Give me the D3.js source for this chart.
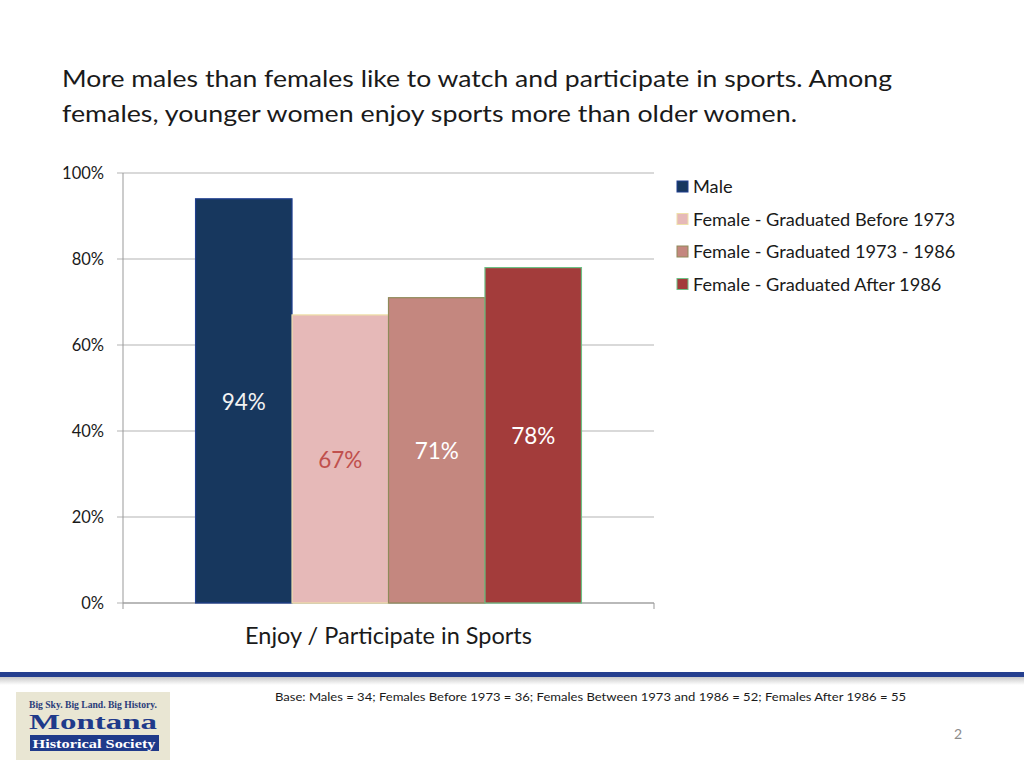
<!DOCTYPE html>
<html><head><meta charset="utf-8">
<script src="https://cdn.jsdelivr.net/npm/d3@7"></script>
<style>body{margin:0;background:#fff;} svg{display:block;font-family:Lato,"Open Sans",sans-serif;}</style>
</head><body>
<script>
const categories = ["Enjoy / Participate in Sports"];
const series = ["Male","Female - Graduated Before 1973","Female - Graduated 1973 - 1986","Female - Graduated After 1986"];
const values = [0.94, 0.67, 0.71, 0.78];
const valueLabels = ["94%","67%","71%","78%"];
const yTicks = [0,0.2,0.4,0.6,0.8,1.0];
const fills = ["#17375e","#e6b9b8","#c4877f","#a33c3b"];
const strokes = ["#1f3f8f","#efe0a8","#8f8a5a","#6dbf84"];
const labelColors = ["#f2f2f2","#c0504d","#ffffff","#ffffff"];
const titleLines = ["More males than females like to watch and participate in sports. Among","females, younger women enjoy sports more than older women."];
const footnote = "Base: Males = 34; Females  Before 1973 = 36; Females Between 1973 and 1986 = 52; Females After 1986 = 55";

const W=1024,H=768;
const svg=d3.select("body").append("svg").attr("width",W).attr("height",H);

// title
svg.selectAll("text.title").data(titleLines).join("text")
  .attr("x",62).attr("y",(d,i)=>87+i*35).attr("font-size",24).attr("fill","#1a1a1a")
  .attr("textLength",(d,i)=>i===0?830:735).attr("lengthAdjust","spacingAndGlyphs")
  .text(d=>d);

const m={left:123,right:654,top:173,bottom:603};
const y=d3.scaleLinear().domain([0,1]).range([m.bottom,m.top]);
const x0=d3.scaleBand().domain(categories).range([m.left,m.right]).paddingInner(0).paddingOuter(0.188);
const x1=d3.scaleBand().domain(series).range([0,x0.bandwidth()]).padding(0);

// gridlines
const g=svg.append("g");
g.selectAll("line.grid").data(yTicks).join("line")
  .attr("x1",117).attr("x2",m.right).attr("y1",d=>y(d)).attr("y2",d=>y(d))
  .attr("stroke","#b3b3b3").attr("stroke-width",1);
g.append("line").attr("x1",m.left).attr("x2",m.left).attr("y1",m.top).attr("y2",m.bottom+6).attr("stroke","#999");
g.append("line").attr("x1",m.right).attr("x2",m.right).attr("y1",m.bottom).attr("y2",m.bottom+6).attr("stroke","#999");
g.append("line").attr("x1",m.left).attr("x2",m.right).attr("y1",m.bottom).attr("y2",m.bottom).attr("stroke","#999");

const yAxis=d3.axisLeft(y).tickValues(yTicks).tickFormat(d3.format(".0%")).tickSize(0).tickPadding(19);
const ya=svg.append("g").attr("transform",`translate(${m.left},0)`).call(yAxis);
ya.select(".domain").remove();
ya.selectAll("text").attr("font-size",16.5).attr("fill","#1a1a1a").attr("font-family","Lato,'Open Sans',sans-serif");

// bars
const cat=categories[0];
svg.selectAll("rect.bar").data(values).join("rect")
  .attr("x",(d,i)=>x0(cat)+x1(series[i])).attr("width",x1.bandwidth())
  .attr("y",d=>y(d)).attr("height",d=>y(0)-y(d))
  .attr("fill",(d,i)=>fills[i]).attr("stroke",(d,i)=>strokes[i]).attr("stroke-width",1.2);

svg.selectAll("text.vl").data(values).join("text")
  .attr("x",(d,i)=>x0(cat)+x1(series[i])+x1.bandwidth()/2)
  .attr("y",d=>(y(d)+y(0))/2+9).attr("text-anchor","middle")
  .attr("font-size",22.5).attr("fill",(d,i)=>labelColors[i]).text((d,i)=>valueLabels[i]);

// category label
svg.append("text").attr("x",x0(cat)+x0.bandwidth()/2).attr("y",644).attr("text-anchor","middle")
  .attr("font-size",23.5).attr("fill","#1a1a1a").text(cat);

// legend
const lg=svg.append("g");
series.forEach((s,i)=>{
  const yy=187+i*32.5;
  lg.append("rect").attr("x",677).attr("y",yy-6).attr("width",11).attr("height",11)
    .attr("fill",fills[i]).attr("stroke",strokes[i]).attr("stroke-width",1);
  lg.append("text").attr("x",693).attr("y",yy+6).attr("font-size",18.2).attr("fill","#1a1a1a").text(s);
});

// footer rule
const defs=svg.append("defs");
const gr=defs.append("linearGradient").attr("id","sh").attr("x1",0).attr("x2",0).attr("y1",0).attr("y2",1);
gr.append("stop").attr("offset","0%").attr("stop-color","#c9c9c9");
gr.append("stop").attr("offset","100%").attr("stop-color","#ffffff");
svg.append("rect").attr("x",0).attr("y",677).attr("width",W).attr("height",8).attr("fill","url(#sh)");
svg.append("rect").attr("x",0).attr("y",672).attr("width",W).attr("height",5).attr("fill","#253f8f");

svg.append("text").attr("x",275).attr("y",701).attr("font-size",12).attr("fill","#1a1a1a")
  .attr("textLength",631).attr("lengthAdjust","spacingAndGlyphs").text(footnote);
svg.append("text").attr("x",958).attr("y",739).attr("text-anchor","middle").attr("font-size",14).attr("fill","#8c8c8c").text("2");

// logo
const lo=svg.append("g");
lo.append("rect").attr("x",16).attr("y",692).attr("width",154).attr("height",68).attr("fill","#e9e6d3");
lo.append("text").attr("x",93).attr("y",708).attr("text-anchor","middle").attr("font-family","'Liberation Serif',serif")
  .attr("font-size",10).attr("font-weight","bold").attr("fill","#2b3d7a").attr("textLength",128).attr("lengthAdjust","spacingAndGlyphs").text("Big Sky. Big Land. Big History.");
lo.append("text").attr("x",93).attr("y",729).attr("text-anchor","middle").attr("font-family","'Liberation Serif',serif")
  .attr("font-size",22).attr("font-weight","bold").attr("fill","#1f3a8a").attr("textLength",128).attr("lengthAdjust","spacingAndGlyphs").text("Montana");
lo.append("rect").attr("x",30).attr("y",735).attr("width",129).attr("height",16).attr("fill","#1f3a8a");
lo.append("text").attr("x",94).attr("y",748).attr("text-anchor","middle").attr("font-family","'Liberation Serif',serif")
  .attr("font-size",12).attr("font-weight","bold").attr("fill","#ffffff").attr("textLength",123).attr("lengthAdjust","spacingAndGlyphs").text("Historical Society");
</script>
</body></html>
